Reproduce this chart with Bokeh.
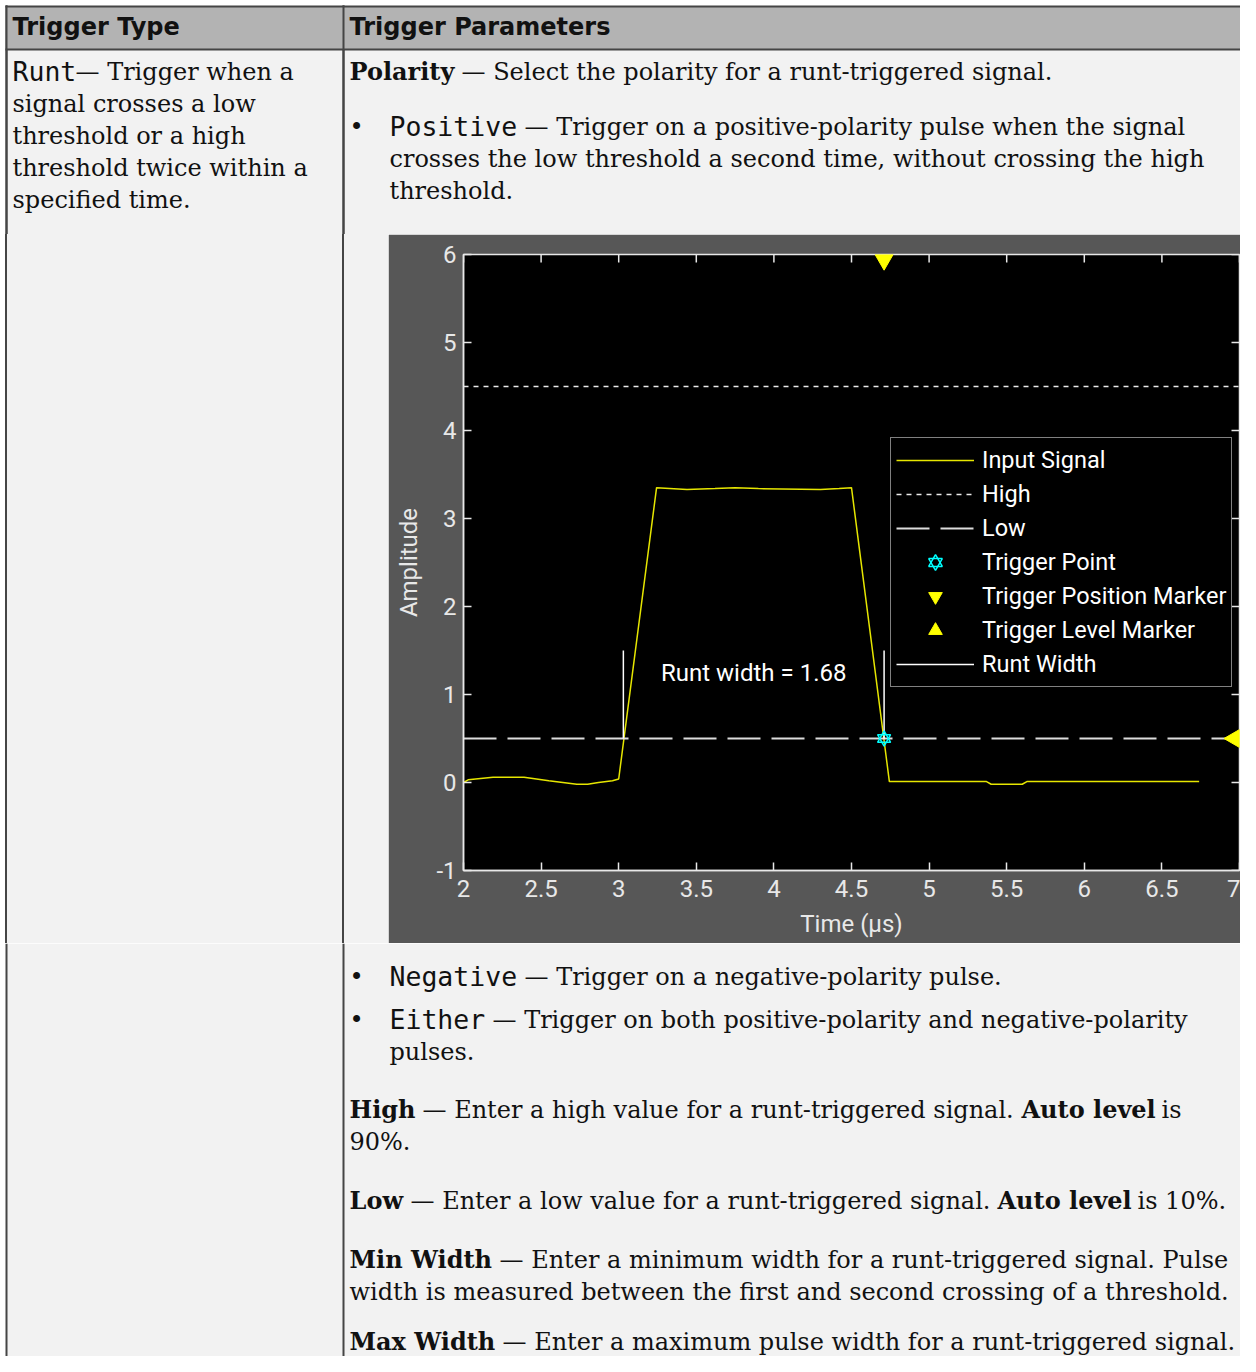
import math
from bokeh.plotting import figure
from bokeh.layouts import column, row
from bokeh.models import Range1d, Legend, LegendItem, FixedTicker, ColumnDataSource, Div
from bokeh.core.properties import value
from bokeh.embed import file_html
from bokeh.resources import INLINE

# ---------------- chart data ----------------
time_us = [2.0, 2.03, 2.19, 2.39, 2.55, 2.64, 2.73, 2.80, 2.87, 2.96, 3.0,
           3.244, 3.44, 3.62, 3.75, 3.90, 4.30, 4.42, 4.50,
           4.744, 5.37, 5.40, 5.60, 5.63, 6.74]
amplitude = [0.0, 0.03, 0.06, 0.06, 0.02, 0.0, -0.02, -0.02, 0.0, 0.02, 0.04,
             3.35, 3.33, 3.34, 3.35, 3.34, 3.33, 3.34, 3.35,
             0.01, 0.01, -0.02, -0.02, 0.01, 0.01]
high_level = 4.5
low_level = 0.5
runt_start = 3.03
runt_end = 4.71
runt_top = 1.5
trigger_time = 4.71
trigger_pos_y = 5.94
trigger_level_x = 6.967
x_ticks = [2, 2.5, 3, 3.5, 4, 4.5, 5, 5.5, 6, 6.5, 7]
y_ticks = [-1, 0, 1, 2, 3, 4, 5, 6]
x_label = "Time (µs)"
y_label = "Amplitude"
runt_label = "Runt width = 1.68"
runt_label_y = 1.25
legend_labels = ["Input Signal", "High", "Low", "Trigger Point",
                 "Trigger Position Marker", "Trigger Level Marker", "Runt Width"]

# ---------------- table text runs: (text, style, x, baseline) ----------------
top_runs = [
    ("Trigger Type", "h", 12, 35),
    ("Trigger Parameters", "h", 349, 35),
    ("Runt", "m", 12, 80),
    ("— Trigger when a", "r", 75, 80),
    ("signal crosses a low", "r", 12, 112),
    ("threshold or a high", "r", 12, 144),
    ("threshold twice within a", "r", 12, 176),
    ("specified time.", "r", 12, 208),
    ("Polarity", "b", 349, 80),
    ("— Select the polarity for a runt-triggered signal.", "r", 461, 80),
    ("•", "r", 349, 135),
    ("Positive", "m", 389, 135),
    ("— Trigger on a positive-polarity pulse when the signal", "r", 524, 135),
    ("crosses the low threshold a second time, without crossing the high", "r", 389, 167),
    ("threshold.", "r", 389, 199),
]
bottom_runs = [
    ("•", "r", 349, 985),
    ("Negative", "m", 389, 985),
    ("— Trigger on a negative-polarity pulse.", "r", 524, 985),
    ("•", "r", 349, 1028),
    ("Either", "m", 389, 1028),
    ("— Trigger on both positive-polarity and negative-polarity", "r", 492, 1028),
    ("pulses.", "r", 389, 1060),
    ("High", "b", 349, 1118),
    ("— Enter a high value for a runt-triggered signal.", "r", 422, 1118),
    ("Auto level", "b", 1021, 1118),
    ("is", "r", 1161, 1118),
    ("90%.", "r", 349, 1150),
    ("Low", "b", 349, 1209),
    ("— Enter a low value for a runt-triggered signal.", "r", 410, 1209),
    ("Auto level", "b", 997, 1209),
    ("is 10%.", "r", 1137, 1209),
    ("Min Width", "b", 349, 1268),
    ("— Enter a minimum width for a runt-triggered signal. Pulse", "r", 499, 1268),
    ("width is measured between the first and second crossing of a threshold.", "r", 349, 1300),
    ("Max Width", "b", 349, 1350),
    ("— Enter a maximum pulse width for a runt-triggered signal.", "r", 502, 1350),
]

# ---------------- styles ----------------
PAGE = "#ffffff"
CELL = "#f2f2f2"
HEAD = "#b3b3b3"
RULE = "#454545"
INK = "#111111"
DARK = "#575757"
AXC = "#e8e8e8"
YEL = "#e6e600"
SERIF = "DejaVu Serif"
MONO = "DejaVu Sans Mono"
SANS = "DejaVu Sans"
CHART_FONT = "Roboto"
STYLE = {"h": (SANS, "bold", "24px"), "r": (SERIF, "normal", "24px"),
         "b": (SERIF, "bold", "24px"), "m": (MONO, "normal", "26.5px")}
BASELINE_FIX = 9   # the text glyph sits this many px below the requested baseline
W = 1240


def canvas(y0, y1):
    p = figure(width=W, height=y1 - y0, x_range=Range1d(0, W), y_range=Range1d(y1, y0),
               output_backend="svg", toolbar_location=None, x_axis_location=None, y_axis_location=None,
               min_border=0, outline_line_color=None, background_fill_color=PAGE, border_fill_color=PAGE)
    p.grid.visible = False
    p.quad(left=[6], right=[W], top=[max(y0, 6)], bottom=[y1], fill_color=CELL, line_color=None)
    p.segment(x0=[6, 343], y0=[max(y0, 5), max(y0, 5)], x1=[6, 343], y1=[y1, y1],
              line_color=RULE, line_width=2)
    return p


def draw_runs(p, runs):
    for key, (font, fstyle, size) in STYLE.items():
        sel = [r for r in runs if r[1] == key]
        if not sel:
            continue
        src = ColumnDataSource(dict(x=[r[2] for r in sel], y=[r[3] - BASELINE_FIX for r in sel],
                                    t=[r[0] for r in sel]))
        p.text(x="x", y="y", text="t", source=src, text_font=value(font), text_font_style=fstyle,
               text_font_size=size, text_color=INK, text_baseline="alphabetic", text_align="left")


# ---------------- top part ----------------
top = canvas(0, 234)
top.quad(left=[6], right=[W], top=[6], bottom=[49], fill_color=HEAD, line_color=None)
top.segment(x0=[5, 5], y0=[6, 49], x1=[W, W], y1=[6, 49], line_color=RULE, line_width=2)
top.segment(x0=[6, 343], y0=[5, 5], x1=[6, 343], y1=[234, 234], line_color=RULE, line_width=2)
draw_runs(top, top_runs)

# ---------------- middle left strip (cell background and column rules) ----------------
strip_html = (
    '<div style="position:relative;width:388px;height:709px;background:%s;margin:0;padding:0;">'
    '<div style="position:absolute;left:0;top:0;width:5px;height:709px;background:%s;"></div>'
    '<div style="position:absolute;left:5px;top:0;width:2px;height:709px;background:%s;"></div>'
    '<div style="position:absolute;left:342px;top:0;width:2px;height:709px;background:%s;"></div>'
    '</div>' % (CELL, PAGE, RULE, RULE)
)
midleft = Div(text=strip_html, width=388, height=709, margin=0)

# ---------------- chart ----------------
c = figure(width=W - 388, height=709, x_range=Range1d(x_ticks[0], x_ticks[-1]),
           y_range=Range1d(y_ticks[0], y_ticks[-1]),
           output_backend="svg", toolbar_location=None,
           min_border_left=75, min_border_right=1, min_border_top=20, min_border_bottom=73,
           background_fill_color="black", border_fill_color=DARK, outline_line_color=AXC,
           outline_line_width=1.5)
c.grid.visible = False

for ax, ticks in ((c.xaxis[0], x_ticks), (c.yaxis[0], y_ticks)):
    ax.ticker = FixedTicker(ticks=ticks)
    ax.major_tick_in = 8
    ax.major_tick_out = 0
    ax.minor_tick_line_color = None
    ax.axis_line_color = AXC
    ax.axis_line_width = 1.5
    ax.major_tick_line_color = AXC
    ax.major_tick_line_width = 1.5
    ax.major_label_text_color = AXC
    ax.major_label_text_font = CHART_FONT
    ax.major_label_text_font_size = "24px"
    ax.axis_label_text_color = AXC
    ax.axis_label_text_font = CHART_FONT
    ax.axis_label_text_font_size = "24px"
    ax.axis_label_text_font_style = "normal"
c.xaxis[0].axis_label = x_label
c.xaxis[0].major_label_standoff = 9
c.xaxis[0].axis_label_standoff = 10
c.yaxis[0].axis_label = y_label
c.yaxis[0].major_label_standoff = 7
c.yaxis[0].axis_label_standoff = 10
c.yaxis[0].major_label_overrides = {t: str(t) for t in y_ticks if t < 0}

# inward tick marks on the top and right edges of the box
c.ray(x=x_ticks, y=[y_ticks[-1]] * len(x_ticks), length=8, length_units="screen",
      angle=-math.pi / 2, line_color=AXC, line_width=1.5)
c.ray(x=[x_ticks[-1]] * len(y_ticks), y=y_ticks, length=8, length_units="screen",
      angle=math.pi, line_color=AXC, line_width=1.5)

r_signal = c.line(time_us, amplitude, line_color=YEL, line_width=1.5)
r_high = c.line([x_ticks[0], x_ticks[-1]], [high_level, high_level], line_color=AXC,
                line_width=1.5, line_dash="5 5")
r_low = c.line([x_ticks[0], x_ticks[-1]], [low_level, low_level], line_color="#dcdcdc",
               line_width=2, line_dash="33 11")
r_runt = c.segment(x0=[runt_start, runt_end], y0=[low_level, low_level],
                   x1=[runt_start, runt_end], y1=[runt_top, runt_top],
                   line_color="white", line_width=1.5)
r_tp1 = c.scatter([trigger_time], [low_level], marker="triangle", size=13,
                  fill_color=None, line_color="cyan", line_width=1.5)
r_tp2 = c.scatter([trigger_time], [low_level], marker="inverted_triangle", size=13,
                  fill_color=None, line_color="cyan", line_width=1.5)
r_pos = c.scatter([trigger_time], [trigger_pos_y], marker="inverted_triangle", size=18,
                  fill_color="yellow", line_color="yellow")
r_lvl = c.scatter([trigger_level_x], [low_level], marker="triangle", size=18, angle=math.pi / 2,
                  fill_color="yellow", line_color="yellow")
c.text(x=[(runt_start + runt_end) / 2], y=[runt_label_y], text=[runt_label],
       text_align="center", text_baseline="middle", text_color="white",
       text_font=value(CHART_FONT), text_font_size="24px")

legend = Legend(items=[
    LegendItem(label=legend_labels[0], renderers=[r_signal]),
    LegendItem(label=legend_labels[1], renderers=[r_high]),
    LegendItem(label=legend_labels[2], renderers=[r_low]),
    LegendItem(label=legend_labels[3], renderers=[r_tp1, r_tp2]),
    LegendItem(label=legend_labels[4], renderers=[r_pos]),
    LegendItem(label=legend_labels[5], renderers=[r_lvl]),
    LegendItem(label=legend_labels[6], renderers=[r_runt]),
], location=(427, 183), margin=0, padding=5, spacing=0, glyph_width=78, glyph_height=34,
    label_height=34, label_standoff=8, background_fill_color="black", background_fill_alpha=1,
    border_line_color="white", border_line_width=1.5, label_text_color="white",
    label_text_font=CHART_FONT, label_text_font_size="23.5px")
c.add_layout(legend)

# ---------------- bottom part ----------------
bottom = canvas(943, 1356)
draw_runs(bottom, bottom_runs)

layout = column(top, row(midleft, c), bottom)
open("out.html", "w").write(file_html(layout, INLINE))
